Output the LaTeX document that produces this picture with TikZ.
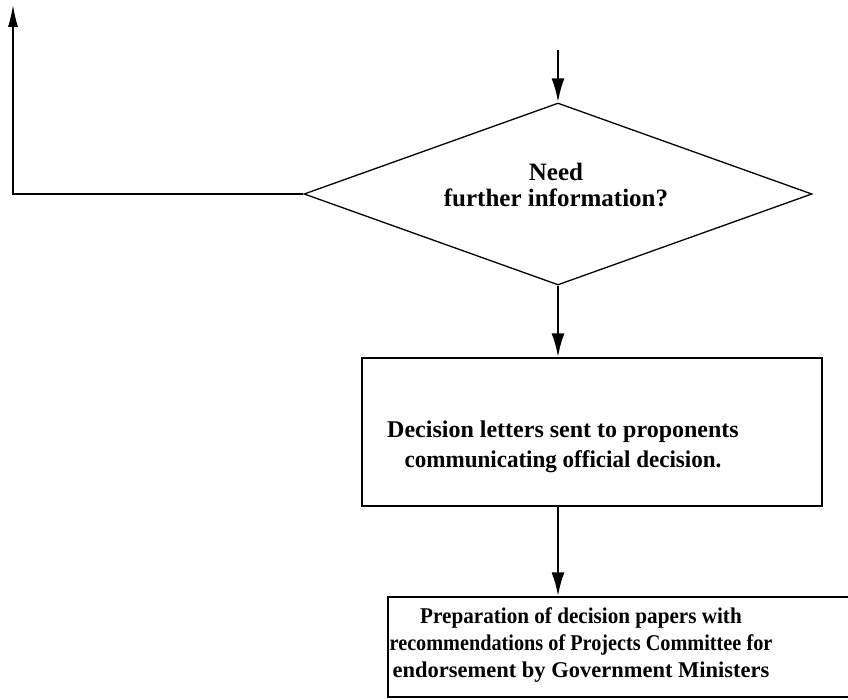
\documentclass[tikz,border=0pt]{standalone}
\usepackage{fontspec}
\usepackage{graphicx}
\setmainfont{Liberation Serif}
\usetikzlibrary{arrows.meta,shapes.geometric}

\begin{document}
\begin{tikzpicture}[x=1pt,y=-1pt,
  outline/.style={line width=1.3pt},
  flow/.style={line width=2.6pt,-{Latex[length=24pt,width=13pt]}},
  backflow/.style={line width=1.4pt,-{Latex[length=22pt,width=10pt]}},
  txt/.style={font=\bfseries\fontsize{23}{29}\selectfont, align=center, inner sep=0pt},
  boxshape/.style={draw, outline, rectangle, inner sep=0pt}]
\useasboundingbox (0,0) rectangle (848,700);
\clip (0,0) rectangle (848,700);

% decision diamond
\node[draw, outline, diamond, inner sep=0pt, aspect=2.8,
      minimum width=508pt, minimum height=182pt] (q) at (558,194) {};
\node[txt, font=\bfseries\fontsize{25}{26}\selectfont] (qtext) at (556,185) {Need\\further information?};

% box: decision letters
\node[boxshape, minimum width=460pt, minimum height=148pt] (b1) at (592,432) {};
\node[txt, font=\bfseries\fontsize{24}{30}\selectfont] (b1text) at (563,447)
  {Decision letters sent to proponents\\\scalebox{0.96}[1]{communicating official decision.}};

% box: preparation of decision papers (runs off the right edge)
\node[boxshape, minimum width=500pt, minimum height=100pt] (b2) at (638,647) {};
\node[txt, font=\bfseries\fontsize{22.5}{27}\selectfont] (b2text) at (581,645)
  {\scalebox{0.94}[1]{Preparation of decision papers with}\\
   \scalebox{0.9}[1]{recommendations of Projects Committee for}\\
   endorsement by Government Ministers};

% connectors
\coordinate (entry) at (558,50);
\coordinate (back) at (13,5);
\draw[flow] (entry) -- (q.north);
\draw[flow] (q.south) -- (q.south |- b1.north);
\draw[flow] (b1.south -| q.south) -- (b2.north -| q.south);
\draw[backflow] (q.west) -| (back);
\end{tikzpicture}
\end{document}
